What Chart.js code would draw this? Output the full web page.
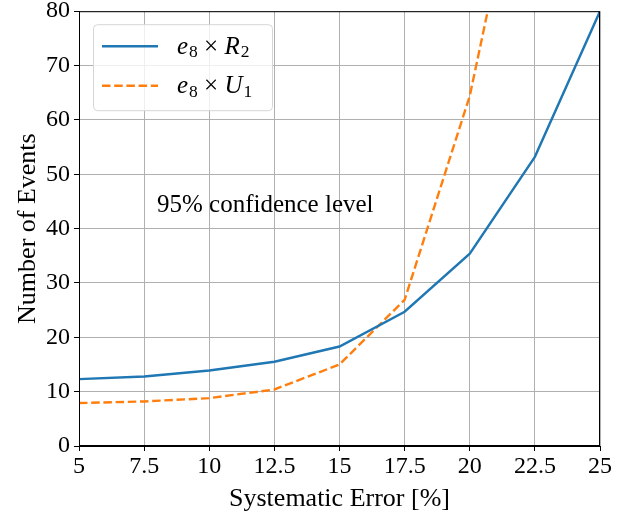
<!DOCTYPE html>
<html>
<head>
<meta charset="utf-8">
<script src="https://cdn.jsdelivr.net/npm/chart.js@4.4.1/dist/chart.umd.min.js"></script>
<style>
  html, body { margin: 0; padding: 0; background: #fff; }
  #wrap { width: 633px; height: 516px; position: relative; }
</style>
</head>
<body>
<div id="wrap"><canvas id="eventsChart" width="633" height="516"></canvas></div>
<script>
// systematic error [%]
const errorPct = [5, 7.5, 10, 12.5, 15, 17.5, 20, 22.5, 25];
// number of events at 95% CL
const r2Events = [12.3, 12.8, 13.9, 15.5, 18.3, 24.7, 35.4, 53.2, 80];
const u1Events = [7.9, 8.2, 8.8, 10.4, 15.0, 26.9, 64.4, 121, null];

const seriesNames = [
  [{ t: 'e', it: true }, { t: '8', sub: true }, { t: ' \u00d7 ' }, { t: 'R', it: true }, { t: '2', sub: true }],
  [{ t: 'e', it: true }, { t: '8', sub: true }, { t: ' \u00d7 ' }, { t: 'U', it: true }, { t: '1', sub: true }]
];
const noteText = '95% confidence level';
const notePos = { x: 12.15, y: 44.2 };

const FONT = '"Liberation Serif", "DejaVu Serif", serif';

function toPoints(ys) {
  return errorPct.map((x, i) => ({ x: x, y: ys[i] }));
}

function drawMath(ctx, parts, x, y, size) {
  parts.forEach(p => {
    const s = p.sub ? size * 0.7 : size;
    ctx.font = (p.it ? 'italic ' : '') + s + 'px ' + FONT;
    ctx.fillText(p.t, x, p.sub ? y + size * 0.22 : y);
    x += ctx.measureText(p.t).width + (p.it ? 1 : 0);
  });
}

const extras = {
  id: 'extras',
  afterDraw(chart) {
    const ctx = chart.ctx;
    const a = chart.chartArea;
    const sx = chart.scales.x, sy = chart.scales.y;
    ctx.save();

    // frame
    ctx.strokeStyle = '#000';
    ctx.lineWidth = 1;
    ctx.strokeRect(a.left + 0.5, a.top + 0.5, a.right - a.left - 1, a.bottom - a.top - 1);

    // note
    ctx.fillStyle = '#000';
    ctx.textAlign = 'center';
    ctx.textBaseline = 'middle';
    ctx.font = '25px ' + FONT;
    ctx.fillText(noteText, sx.getPixelForValue(notePos.x), sy.getPixelForValue(notePos.y));

    // legend
    const lx = a.left + 14, ly = a.top + 13, lw = 179, lh = 86;
    ctx.beginPath();
    ctx.roundRect(lx + 0.5, ly + 0.5, lw, lh, 4);
    ctx.fillStyle = 'rgba(255,255,255,0.8)';
    ctx.fill();
    ctx.strokeStyle = '#d6d6d6';
    ctx.stroke();

    chart.data.datasets.forEach((ds, i) => {
      const cy = ly + 22 + i * 39.5;
      ctx.beginPath();
      ctx.setLineDash(ds.borderDash || []);
      ctx.strokeStyle = ds.borderColor;
      ctx.lineWidth = ds.borderWidth;
      ctx.moveTo(lx + 9, cy);
      ctx.lineTo(lx + 65, cy);
      ctx.stroke();
      ctx.setLineDash([]);
      ctx.fillStyle = '#000';
      ctx.textAlign = 'left';
      ctx.textBaseline = 'middle';
      drawMath(ctx, seriesNames[i], lx + 84, cy + 1, 25);
    });
    ctx.restore();
  }
};

new Chart(document.getElementById('eventsChart'), {
  type: 'line',
  data: {
    datasets: [
      {
        label: 'e8 x R2',
        data: toPoints(r2Events),
        borderColor: '#1f77b4',
        borderWidth: 2.4,
        pointRadius: 0,
        tension: 0,
        fill: false
      },
      {
        label: 'e8 x U1',
        data: toPoints(u1Events),
        borderColor: '#ff7f0e',
        borderWidth: 2.4,
        borderDash: [8.5, 3.7],
        pointRadius: 0,
        tension: 0,
        fill: false,
        spanGaps: false
      }
    ]
  },
  options: {
    responsive: false,
    animation: false,
    layout: { padding: { left: 0, right: 33, top: 11, bottom: 0 } },
    plugins: {
      legend: { display: false },
      tooltip: { enabled: false }
    },
    scales: {
      x: {
        type: 'linear',
        min: 5,
        max: 25,
        afterFit(scale) { scale.height = 70; },
        ticks: {
          stepSize: 2.5,
          color: '#000',
          padding: 4,
          font: { family: FONT, size: 24, lineHeight: 1 }
        },
        grid: { color: '#b0b0b0', lineWidth: 1, tickColor: '#000', tickLength: 5 },
        border: { color: '#000' },
        title: {
          display: true,
          text: 'Systematic Error [%]',
          color: '#000',
          padding: { top: 4 },
          font: { family: FONT, size: 26, lineHeight: 1 }
        }
      },
      y: {
        min: 0,
        max: 80,
        afterFit(scale) { scale.width = 79; },
        ticks: {
          stepSize: 10,
          color: '#000',
          padding: 4,
          font: { family: FONT, size: 24, lineHeight: 0.6 }
        },
        grid: { color: '#b0b0b0', lineWidth: 1, tickColor: '#000', tickLength: 5 },
        border: { color: '#000' },
        title: {
          display: true,
          text: 'Number of Events',
          color: '#000',
          padding: { top: 15, bottom: 0 },
          font: { family: FONT, size: 26, lineHeight: 1 }
        }
      }
    }
  },
  plugins: [extras]
});
</script>
</body>
</html>
